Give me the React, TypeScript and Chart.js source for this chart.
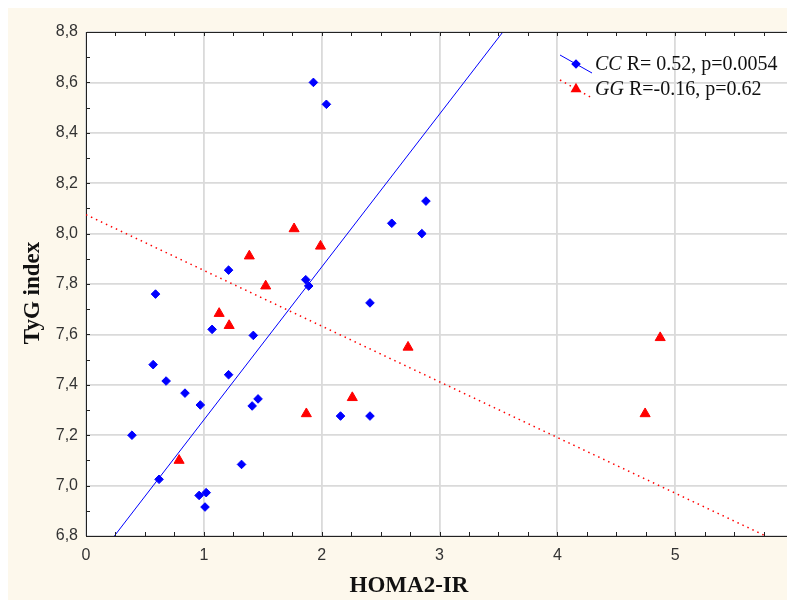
import { useEffect, useRef } from "react";
import { Chart, registerables } from "chart.js";

Chart.register(...registerables);

// HOMA2-IR vs TyG index, CC genotype
const ccHoma = [0.39, 0.57, 0.59, 0.68, 0.84, 0.97, 0.62, 1.07, 1.21, 1.42, 1.21, 1.41, 1.46, 1.32, 0.96, 1.02, 1.01, 1.93, 2.04, 1.865, 1.89, 2.16, 2.41, 2.41, 2.595, 2.885, 2.85];
const ccTyg = [7.2, 7.48, 7.76, 7.415, 7.367, 7.32, 7.025, 7.62, 7.855, 7.596, 7.44, 7.316, 7.344, 7.084, 6.961, 6.972, 6.915, 8.6, 8.513, 7.817, 7.792, 7.276, 7.276, 7.725, 8.041, 8.129, 8.0];

// HOMA2-IR vs TyG index, GG genotype
const ggHoma = [0.79, 1.13, 1.215, 1.87, 2.26, 1.386, 1.766, 1.525, 1.99, 2.733, 4.873, 4.745];
const ggTyg = [7.1, 7.683, 7.635, 7.285, 7.349, 7.911, 8.019, 7.792, 7.95, 7.549, 7.587, 7.285];

// Linear fits (intercept, slope)
const ccFit = [6.654, 0.6066];
const ggFit = [8.075, -0.221];

const xTicks = [0, 1, 2, 3, 4, 5, 6];
const yTicks = [6.8, 7.0, 7.2, 7.4, 7.6, 7.8, 8.0, 8.2, 8.4, 8.6, 8.8];

const ccLabel = ["CC", " R= 0.52, p=0.0054"];
const ggLabel = ["GG", " R=-0.16, p=0.62"];
const xTitle = "HOMA2-IR";
const yTitle = "TyG index";

const BLUE = "#0000ff";
const RED = "#ff0000";
const SERIF = "'Liberation Serif', 'Times New Roman', serif";
const SANS = "'Liberation Sans', Arial, sans-serif";

const toPoints = (xs: number[], ys: number[]) => xs.map((x, i) => ({ x, y: ys[i] }));
const fitLine = (fit: number[]) => [xTicks[0], xTicks[xTicks.length - 1]].map((x) => ({ x, y: fit[0] + fit[1] * x }));

// legend marker shapes, same geometry as Chart.js 'rectRot' and 'triangle'
function markerPath(ctx: CanvasRenderingContext2D, style: string, x: number, y: number, r: number) {
  ctx.beginPath();
  if (style === "rectRot") {
    ctx.moveTo(x - r, y);
    ctx.lineTo(x, y - r);
    ctx.lineTo(x + r, y);
    ctx.lineTo(x, y + r);
  } else {
    ctx.moveTo(x, y - r);
    ctx.lineTo(x + r * Math.sin(Math.PI / 3), y + r / 2);
    ctx.lineTo(x - r * Math.sin(Math.PI / 3), y + r / 2);
  }
  ctx.closePath();
}

const framePlugin = {
  id: "frame",
  beforeDraw(chart: any) {
    const { ctx, chartArea: a } = chart;
    ctx.save();
    ctx.fillStyle = "#ffffff";
    ctx.fillRect(a.left, a.top, a.right - a.left, a.bottom - a.top);
    ctx.restore();
  },
  afterDraw(chart: any) {
    const { ctx, chartArea: a, scales } = chart;
    const xs = scales.x;
    const ys = scales.y;
    ctx.save();
    ctx.strokeStyle = "#222222";
    ctx.lineWidth = 1;
    ctx.beginPath();
    ctx.moveTo(a.left, Math.round(a.top) + 0.5);
    ctx.lineTo(a.right, Math.round(a.top) + 0.5);
    // inner minor ticks
    const x0 = xTicks[0];
    const x1 = xTicks[xTicks.length - 1];
    for (let i = 0; x0 + i * 0.25 <= x1 + 1e-9; i++) {
      const px = Math.round(xs.getPixelForValue(x0 + i * 0.25)) + 0.5;
      ctx.moveTo(px, a.bottom);
      ctx.lineTo(px, a.bottom - 4);
      ctx.moveTo(px, a.top);
      ctx.lineTo(px, a.top + 4);
    }
    const y0 = yTicks[0];
    const y1 = yTicks[yTicks.length - 1];
    for (let i = 0; y0 + i * 0.1 <= y1 + 1e-9; i++) {
      const py = Math.round(ys.getPixelForValue(y0 + i * 0.1)) + 0.5;
      ctx.moveTo(a.left, py);
      ctx.lineTo(a.left + 4, py);
    }
    ctx.stroke();

    // axis titles
    ctx.fillStyle = "#111111";
    ctx.font = `bold 23px ${SERIF}`;
    ctx.textAlign = "center";
    ctx.textBaseline = "middle";
    ctx.fillText(xTitle, a.left + 323, a.bottom + 50);
    ctx.save();
    ctx.translate(a.left - 53, a.top + 261);
    ctx.rotate(-Math.PI / 2);
    ctx.fillText(yTitle, 0, 0);
    ctx.restore();

    // legend
    const lx = a.left + 474;
    const rows = [
      { y: a.top + 32, color: BLUE, dash: [] as number[], lw: 1, style: "rectRot", r: 4.8, label: ccLabel },
      { y: a.top + 57, color: RED, dash: [1.5, 4], lw: 1.5, style: "triangle", r: 6.3, label: ggLabel },
    ];
    for (const row of rows) {
      ctx.save();
      ctx.strokeStyle = row.color;
      ctx.lineWidth = row.lw;
      ctx.setLineDash(row.dash);
      ctx.beginPath();
      ctx.moveTo(lx, row.y - 9);
      ctx.lineTo(lx + 32, row.y + 9);
      ctx.stroke();
      ctx.restore();
      ctx.fillStyle = row.color;
      markerPath(ctx, row.style, lx + 16, row.y, row.r);
      ctx.fill();
      ctx.fillStyle = "#111111";
      ctx.textAlign = "left";
      ctx.textBaseline = "middle";
      ctx.font = `italic 20px ${SERIF}`;
      ctx.fillText(row.label[0], lx + 35, row.y + 1);
      const w = ctx.measureText(row.label[0]).width;
      ctx.font = `20px ${SERIF}`;
      ctx.fillText(row.label[1], lx + 35 + w, row.y + 1);
    }
    ctx.restore();
  },
};

export default function App() {
  const canvasRef = useRef<HTMLCanvasElement | null>(null);

  useEffect(() => {
    document.documentElement.style.overflow = "hidden";
    const canvas = canvasRef.current;
    if (!canvas) return;
    const chart = new Chart(canvas, {
      type: "scatter",
      data: {
        datasets: [
          {
            label: "CC",
            data: toPoints(ccHoma, ccTyg),
            pointStyle: "rectRot",
            pointRadius: 4.3,
            pointBorderWidth: 1,
            backgroundColor: BLUE,
            borderColor: BLUE,
          },
          {
            label: "GG",
            data: toPoints(ggHoma, ggTyg),
            pointStyle: "triangle",
            pointRadius: 5.8,
            pointBorderWidth: 1,
            backgroundColor: RED,
            borderColor: RED,
          },
          {
            label: "CC fit",
            data: fitLine(ccFit),
            showLine: true,
            pointRadius: 0,
            borderColor: BLUE,
            borderWidth: 1,
          },
          {
            label: "GG fit",
            data: fitLine(ggFit),
            showLine: true,
            pointRadius: 0,
            borderColor: RED,
            borderWidth: 1.5,
            borderDash: [1.5, 4],
          },
        ],
      },
      options: {
        animation: false,
        responsive: false,
        layout: { autoPadding: false, padding: { top: 24, right: 2, left: 0, bottom: 0 } },
        plugins: { legend: { display: false }, tooltip: { enabled: false } },
        scales: {
          x: {
            type: "linear",
            min: xTicks[0],
            max: xTicks[xTicks.length - 1],
            afterBuildTicks: (s: any) => {
              s.ticks = xTicks.map((v) => ({ value: v }));
            },
            afterFit: (s: any) => {
              s.height = 64;
              s.paddingLeft = 0;
              s.paddingRight = 0;
            },
            ticks: {
              padding: 10,
              color: "#333333",
              font: { family: SANS, size: 16 },
              maxRotation: 0,
              callback: (v: any) => String(v),
            },
            grid: { color: "#dadada", lineWidth: 1.8, drawTicks: false },
            border: { display: true, color: "#222222", width: 1 },
          },
          y: {
            type: "linear",
            min: yTicks[0],
            max: yTicks[yTicks.length - 1],
            afterBuildTicks: (s: any) => {
              s.ticks = yTicks.map((v) => ({ value: v }));
            },
            afterFit: (s: any) => {
              s.width = 78;
              s.paddingTop = 0;
              s.paddingBottom = 0;
            },
            ticks: {
              padding: 8,
              color: "#333333",
              font: { family: SANS, size: 16 },
              callback: (v: any) => Number(v).toFixed(1).replace(".", ","),
            },
            grid: { color: "#dadada", lineWidth: 1.8, drawTicks: false },
            border: { display: true, color: "#222222", width: 1 },
          },
        },
      },
      plugins: [framePlugin],
    });
    return () => chart.destroy();
  }, []);

  return (
    <div style={{ width: 787, height: 592, background: "#fdf8ec" }}>
      <canvas ref={canvasRef} width={787} height={592} style={{ display: "block" }} />
    </div>
  );
}
